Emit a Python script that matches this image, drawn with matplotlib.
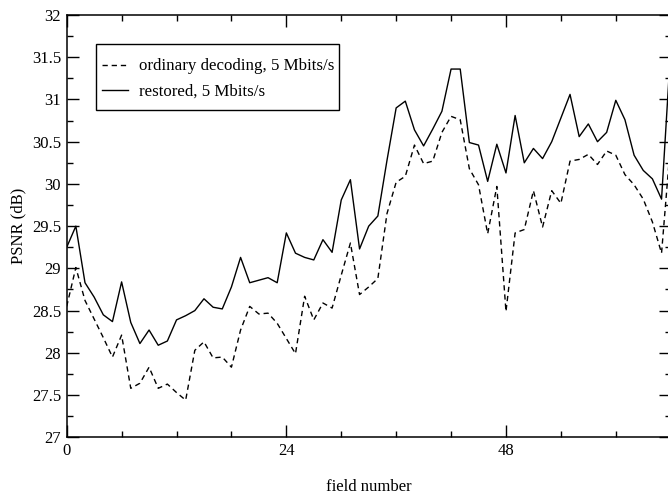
import matplotlib
matplotlib.use("Agg")
import matplotlib.pyplot as plt
from matplotlib.ticker import MultipleLocator, FixedLocator
from matplotlib.patches import Rectangle

plt.rcParams['font.family'] = 'serif'
plt.rcParams['font.serif'] = ['Liberation Serif', 'DejaVu Serif']

field = list(range(67))
restored = [29.25, 29.50, 28.83, 28.66, 28.45, 28.37, 28.84, 28.36, 28.11, 28.27,
            28.09, 28.14, 28.39, 28.44, 28.50, 28.64, 28.54, 28.52, 28.78, 29.13,
            28.83, 28.86, 28.89, 28.83, 29.42, 29.18, 29.13, 29.10, 29.34, 29.19,
            29.81, 30.05, 29.23, 29.50, 29.62, 30.28, 30.90, 30.98, 30.64, 30.45,
            30.65, 30.86, 31.36, 31.36, 30.49, 30.46, 30.03, 30.47, 30.13, 30.81,
            30.25, 30.42, 30.30, 30.50, 30.78, 31.06, 30.56, 30.71, 30.50, 30.61,
            30.99, 30.76, 30.34, 30.16, 30.06, 29.82, 31.60]
ordinary = [28.55, 29.01, 28.62, 28.40, 28.18, 27.95, 28.21, 27.58, 27.64, 27.83,
            27.58, 27.63, 27.53, 27.44, 28.03, 28.13, 27.94, 27.95, 27.83, 28.27,
            28.55, 28.46, 28.47, 28.35, 28.17, 27.99, 28.67, 28.39, 28.59, 28.53,
            28.92, 29.30, 28.69, 28.78, 28.88, 29.65, 30.02, 30.09, 30.46, 30.24,
            30.27, 30.61, 30.80, 30.76, 30.18, 29.99, 29.41, 29.97, 28.49, 29.42,
            29.46, 29.92, 29.49, 29.92, 29.77, 30.27, 30.29, 30.35, 30.23, 30.39,
            30.34, 30.11, 29.99, 29.82, 29.55, 29.18, 30.50]

xticks = [0, 24, 48]
labels = ['ordinary decoding, 5 Mbits/s', 'restored, 5 Mbits/s']

W, H = 668, 495
fig = plt.figure(figsize=(W / 100, H / 100), dpi=100)
ax = fig.add_axes([66.7 / W, (H - 437.3) / H, (670.7 - 66.7) / W, 422.3 / H])

ax.plot(field, ordinary, color='black', lw=1.0, linestyle=(0, (3.8, 2.8)), label=labels[0])
ax.plot(field, restored, color='black', lw=1.0, linestyle='-', label=labels[1])

ax.set_xlim(0, 66)
ax.set_ylim(27, 32)
ax.xaxis.set_major_locator(FixedLocator(xticks))
ax.xaxis.set_minor_locator(MultipleLocator(6))
ax.yaxis.set_major_locator(MultipleLocator(0.5))
ax.yaxis.set_minor_locator(MultipleLocator(0.25))
ax.yaxis.set_major_formatter(matplotlib.ticker.FuncFormatter(lambda v, p: f"{v:g}"))
ax.tick_params(which='both', direction='in', top=True, right=True, labelsize=12, width=1.0)
ax.tick_params(which='major', length=8.5, pad=4)
ax.tick_params(which='minor', length=4.3)
for s in ax.spines.values():
    s.set_linewidth(1.1)

ax.set_xlabel('field number', fontsize=12, labelpad=14.5)
ax.set_ylabel('PSNR (dB)', fontsize=12, labelpad=4)

# legend frame drawn separately for exact placement
frame = Rectangle((96 / W, 1 - 110 / H), (339.3 - 96) / W, (110 - 44.3) / H,
                  transform=fig.transFigure, fill=True, facecolor='white',
                  edgecolor='black', lw=1.0, zorder=4, clip_on=False)
ax.add_patch(frame)
leg = ax.legend(loc='upper left', bbox_to_anchor=(101.7 / W, 1 - 58.5 / H),
                bbox_transform=fig.transFigure, borderaxespad=0, borderpad=0,
                fontsize=12.2, frameon=False, handlelength=1.56,
                labelspacing=0.55, handletextpad=0.62)
leg.set_zorder(5)

fig.savefig('out.png', dpi=100)
